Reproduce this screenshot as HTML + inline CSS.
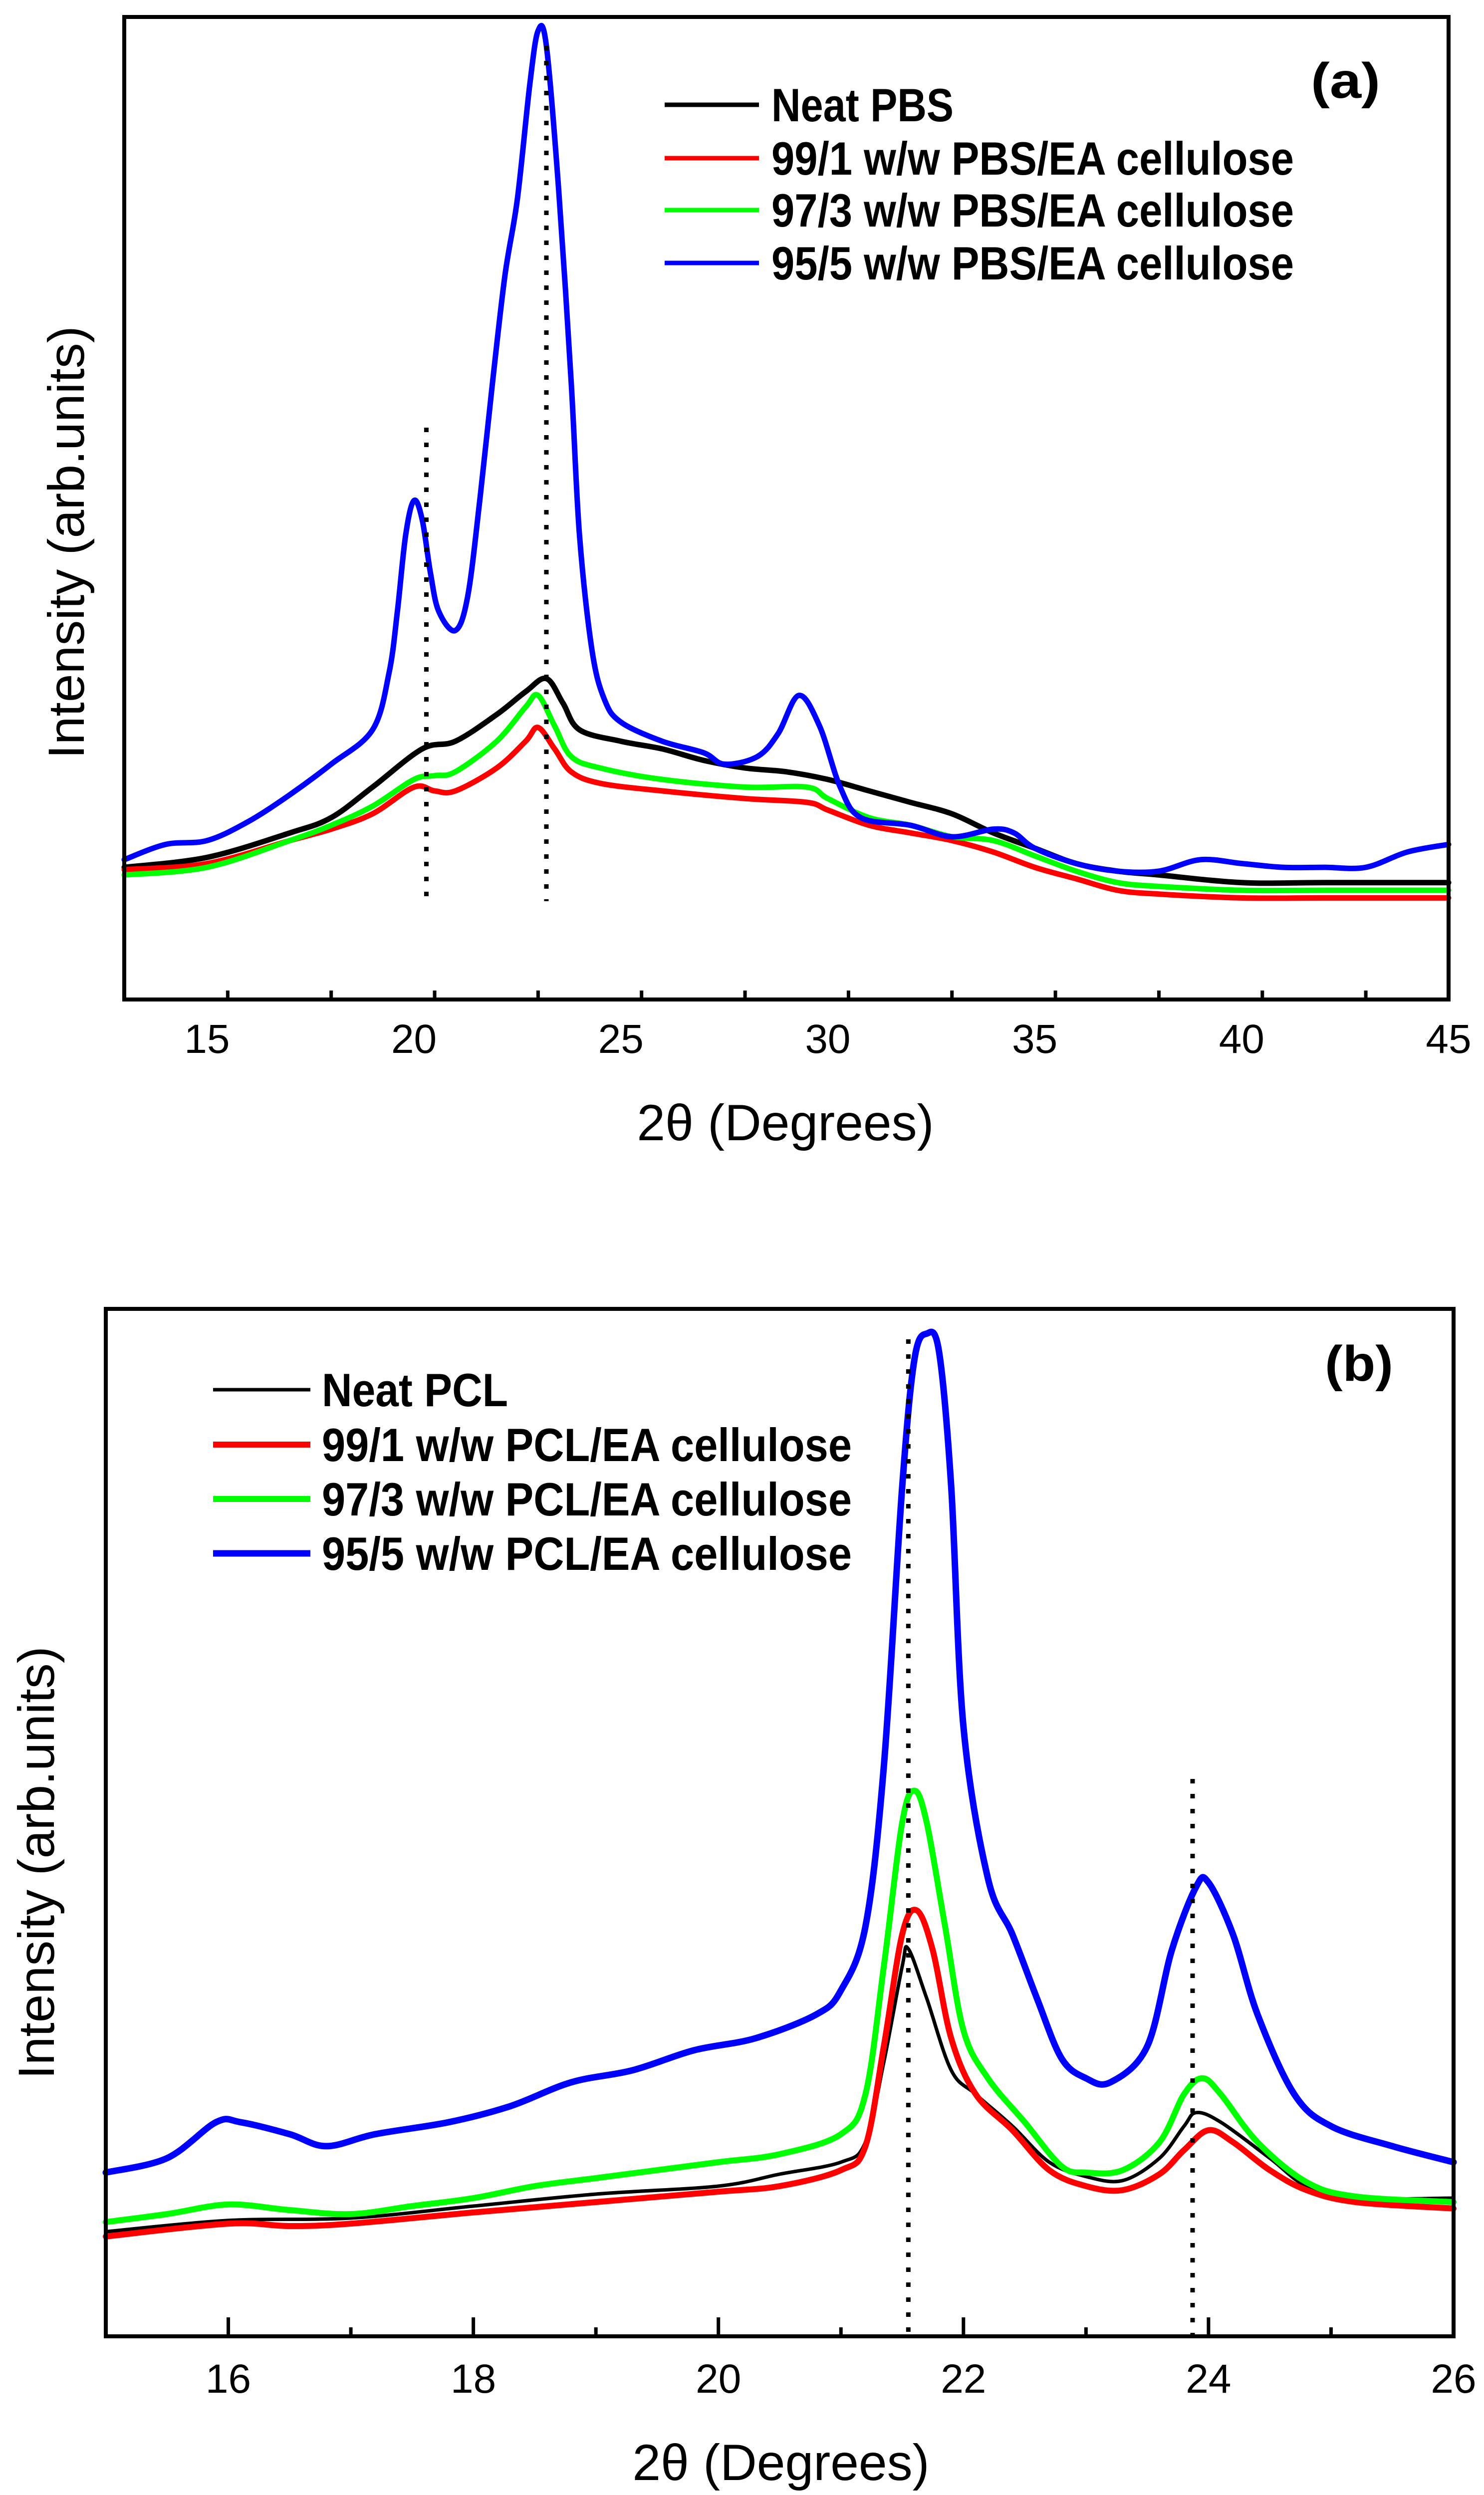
<!DOCTYPE html>
<html><head><meta charset="utf-8"><style>
html,body{margin:0;padding:0;background:#fff;width:2974px;height:5010px;overflow:hidden}
svg{display:block}
text{font-family:"Liberation Sans",Arial,sans-serif;fill:#000}
</style></head><body>
<svg id="fig" width="2974" height="5010" viewBox="0 0 2974 5010" xmlns="http://www.w3.org/2000/svg" style="overflow:hidden">
<g id="pa"></g>
<g id="pb"></g>
</svg>
<script>
// ---------- Panel (a) data (intensity 0-100, arbitrary) ----------
const aNames = ["Neat PBS","99/1 w/w PBS/EA cellulose","97/3 w/w PBS/EA cellulose","95/5 w/w PBS/EA cellulose"];
const aColors = ["#000000","#ff0000","#00ff00","#0000ff"];
const aBlueX = [13,14,15,16,17,18,19,19.4,19.6,19.8,20.0,20.2,20.4,20.6,21.0,21.3,21.6,21.9,22.2,22.5,22.8,23.0,23.2,23.5,23.8,24.0,24.3,24.6,25,26,27,27.5,28.3,28.8,29.3,29.8,30.3,30.8,32,33,34,34.5,35,36,37,38,39,40,41,42,43,44,45];
const aBlueY = [1125,1105,1100,1075,1040,1000,955,880,800,700,655,680,750,800,825,780,650,500,360,260,110,40,60,250,500,700,850,915,945,970,985,1000,990,960,910,950,1030,1070,1080,1095,1085,1090,1110,1130,1140,1140,1125,1130,1135,1135,1135,1115,1105];
const aBlackX = [13,15,17,18,19,20.2,21,22,22.7,23.2,23.6,24,25,26,27,28,29,30,31,32,33,34,35,36,37,38,40,42,45];
const aBlackY = [1135,1122,1090,1070,1030,980,970,935,905,888,920,955,970,980,995,1005,1010,1020,1035,1050,1065,1090,1110,1130,1140,1145,1155,1155,1155];
const aRedX = [13,15,17,18,19,20,20.5,21,22,22.7,23.0,23.4,23.8,24.5,26,28,29.5,30,31,32,33,34,35,36,37,38,40,42,45];
const aRedY = [1138,1130,1100,1085,1065,1030,1035,1035,1005,970,952,980,1010,1025,1035,1045,1050,1060,1080,1090,1100,1115,1135,1150,1165,1170,1175,1175,1175];
const aGreenX = [13,15,17,18,19,20,20.5,21,22,22.7,23.0,23.4,23.8,24.5,26,28,29.5,30,31,32,33,34,35,36,37,38,40,42,45];
const aGreenY = [1145,1135,1100,1080,1055,1020,1015,1010,970,925,910,950,990,1005,1020,1030,1030,1045,1070,1080,1095,1100,1120,1140,1155,1160,1165,1165,1165];
const aTicks = ["15","20","25","30","35","40","45"];
// ---------- Panel (b) data ----------
const bNames = ["Neat PCL","99/1 w/w PCL/EA cellulose","97/3 w/w PCL/EA cellulose","95/5 w/w PCL/EA cellulose"];
const bBlueX = [15,15.5,15.9,16.1,16.5,16.8,17.2,17.8,18.3,18.8,19.3,19.8,20.3,20.8,21.0,21.2,21.35,21.5,21.6,21.7,21.8,21.9,22.0,22.2,22.4,22.6,22.8,23.0,23.2,23.5,23.7,23.9,24.0,24.2,24.4,24.7,25.0,25.5,26];
const bBlueY = [1158,1140,1095,1095,1110,1125,1110,1095,1075,1045,1030,1005,990,960,930,850,650,300,140,108,130,300,600,790,860,940,1015,1040,1045,1000,880,800,795,860,960,1060,1100,1125,1145];
const bGreenX = [15,15.5,16,16.5,17,17.5,18,18.5,19,19.5,20,20.5,21.0,21.2,21.35,21.5,21.6,21.7,21.85,22.0,22.2,22.5,22.8,23.0,23.3,23.6,23.8,23.95,24.1,24.4,24.8,25.2,26];
const bGreenY = [1220,1210,1198,1205,1210,1200,1190,1175,1165,1155,1145,1135,1110,1060,900,720,680,720,850,980,1040,1095,1150,1158,1155,1120,1060,1040,1060,1120,1170,1188,1195];
const bRedX = [15,16,16.5,17,18,19,20,20.5,21.0,21.2,21.35,21.5,21.62,21.75,21.9,22.1,22.4,22.7,23.0,23.3,23.6,23.8,24.0,24.2,24.5,24.8,25.2,26];
const bRedY = [1238,1222,1225,1222,1208,1195,1182,1175,1155,1125,1000,860,830,880,990,1060,1105,1155,1175,1180,1160,1130,1105,1120,1155,1180,1195,1203];
const bBlackX = [15,16,17,18,19,20,20.5,21.0,21.2,21.35,21.5,21.55,21.7,21.9,22.1,22.4,22.7,23.0,23.3,23.6,23.8,23.9,24.1,24.5,24.8,25.2,26];
const bBlackY = [1232,1218,1215,1200,1185,1175,1160,1145,1120,1020,900,878,940,1030,1060,1100,1145,1163,1168,1140,1100,1083,1095,1140,1175,1190,1190];
const bTicks = ["16","18","20","22","24","26"];

const NS="http://www.w3.org/2000/svg";
function mk(parent,tag,attrs,txt){const e=document.createElementNS(NS,tag);for(const k in attrs)e.setAttribute(k,attrs[k]);if(txt!==undefined)e.textContent=txt;parent.appendChild(e);return e;}
function toVal(raw,base){return (base-raw)/1286*100;}
function smoothPath(P){
  let d="M"+P[0][0].toFixed(1)+","+P[0][1].toFixed(1);
  for(let i=0;i<P.length-1;i++){
    const p0=P[i-1]||P[i],p1=P[i],p2=P[i+1],p3=P[i+2]||p2;
    const c1=[p1[0]+(p2[0]-p0[0])/6,p1[1]+(p2[1]-p0[1])/6];
    const c2=[p2[0]-(p3[0]-p1[0])/6,p2[1]-(p3[1]-p1[1])/6];
    d+=" C"+c1[0].toFixed(1)+","+c1[1].toFixed(1)+" "+c2[0].toFixed(1)+","+c2[1].toFixed(1)+" "+p2[0].toFixed(1)+","+p2[1].toFixed(1);
  }
  return d;
}

function panel(g,cfg){
  const X=v=>cfg.L+(v-cfg.x0)/(cfg.x1-cfg.x0)*(cfg.R-cfg.L);
  const Y=v=>cfg.B-v/100*(cfg.B-cfg.T);
  cfg.series.forEach((s,i)=>{
    const P=s.x.map((xv,j)=>[X(xv),Y(toVal(s.y[j],cfg.base))]);
    const p=mk(g,"path",{d:smoothPath(P),fill:"none",stroke:s.color,"stroke-width":s.w,"stroke-linejoin":"round","stroke-linecap":"round"});
    
    
  });
  cfg.dots.forEach((d,i)=>{
    const l=mk(g,"line",{x1:X(d[0]),x2:X(d[0]),y1:d[1],y2:d[2],stroke:"#000","stroke-width":9,"stroke-dasharray":"9 21"});
    
    
  });
  const fr=mk(g,"rect",{x:cfg.L,y:cfg.T,width:cfg.R-cfg.L,height:cfg.B-cfg.T,fill:"none",stroke:"#000","stroke-width":8});
  
  
  for(let v=cfg.x0;v<=cfg.x1+1e-6;v+=cfg.minor){
    const isMaj=Math.abs((v/cfg.major)-Math.round(v/cfg.major))<1e-6;
    const t=mk(g,"line",{x1:X(v),x2:X(v),y1:cfg.B,y2:cfg.B-(isMaj?38:18),stroke:"#000","stroke-width":7});
    
    
  }
  cfg.ticks.forEach(lbl=>{
    const t=mk(g,"text",{x:X(parseFloat(lbl)),y:cfg.tickY,"font-size":82,"text-anchor":"middle"},lbl);
    
    
  });
  const xt=mk(g,"text",{x:cfg.xtX,y:cfg.xtY,"font-size":102,"text-anchor":"middle"},"2θ (Degrees)");
  
  
  const yt=mk(g,"text",{x:0,y:0,"font-size":102,"text-anchor":"middle",transform:`translate(${cfg.ytX},${cfg.ytY}) rotate(-90)`},"Intensity (arb.units)");
  
  
  const pl=mk(g,"text",{x:cfg.plX,y:cfg.plY,"font-size":100,"font-weight":"bold",textLength:cfg.plW,lengthAdjust:"spacingAndGlyphs"},cfg.plabel);
  
  
  cfg.names.forEach((n,i)=>{
    const y=cfg.legY[i];
    const ln=mk(g,"line",{x1:cfg.legX1,x2:cfg.legX2,y1:y,y2:y,stroke:cfg.series[i].color,"stroke-width":cfg.legW[i]});
    
    
    const tx=mk(g,"text",{x:cfg.legTX,y:y+33,"font-size":94,"font-weight":"bold",textLength:cfg.legLen[i],lengthAdjust:"spacingAndGlyphs"},n);
    
    
  });
}

panel(document.getElementById("pa"),{
  L:249,R:2903,T:34,B:2003,x0:13,x1:45,major:5,minor:2.5,base:1308,
  series:[
    {id:"series-neat-pbs",x:aBlackX,y:aBlackY,color:aColors[0],w:11},
    {id:"series-99-1-pbs",x:aRedX,y:aRedY,color:aColors[1],w:11},
    {id:"series-97-3-pbs",x:aGreenX,y:aGreenY,color:aColors[2],w:11},
    {id:"series-95-5-pbs",x:aBlueX,y:aBlueY,color:aColors[3],w:11}],
  dots:[[20.3,857,1806],[23.2,92,1806]],
  ticks:aTicks,tickY:2110,xtX:1574,xtY:2285,ytX:168,ytY:1087,
  plabel:"(a)",plX:2627,plY:196,plW:139,
  names:aNames,legY:[210,317,421,527],legX1:1332,legX2:1521,legTX:1546,
  legW:[9,9,9,9],legLen:[365,1047,1047,1047]
});
panel(document.getElementById("pb"),{
  L:212,R:2913,T:2623,B:4682,x0:15,x1:26,major:2,minor:1,base:1363,
  series:[
    {id:"series-neat-pcl",x:bBlackX,y:bBlackY,color:"#000000",w:7},
    {id:"series-99-1-pcl",x:bRedX,y:bRedY,color:"#ff0000",w:12},
    {id:"series-97-3-pcl",x:bGreenX,y:bGreenY,color:"#00ff00",w:12},
    {id:"series-95-5-pcl",x:bBlueX,y:bBlueY,color:"#0000ff",w:13}],
  dots:[[21.55,2684,4682],[23.87,3565,4682]],
  ticks:bTicks,tickY:4795,xtX:1565,xtY:4970,ytX:108,ytY:3733,
  plabel:"(b)",plX:2655,plY:2767,plW:137,
  names:bNames,legY:[2785,2895,3004,3113],legX1:427,legX2:622,legTX:645,
  legW:[7,12,12,13],legLen:[373,1062,1062,1062]
});
</script>
</body></html>
